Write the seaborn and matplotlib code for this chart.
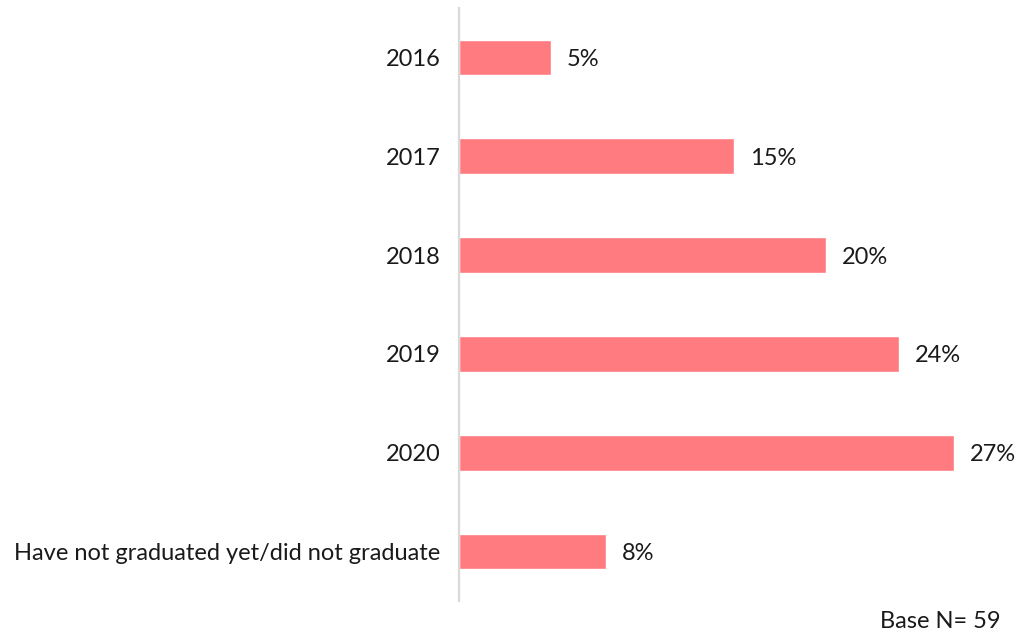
import matplotlib
matplotlib.use("Agg")
import matplotlib.pyplot as plt
import seaborn as sns
import pandas as pd

categories = ["2016", "2017", "2018", "2019", "2020",
              "Have not graduated yet/did not graduate"]
values = [5, 15, 20, 24, 27, 8]
bar_color = "#FF7B7F"
base_note = "Base N= 59"

sns.set_theme(style="white")
plt.rcParams["font.family"] = ["Lato", "DejaVu Sans"]

df = pd.DataFrame({"category": categories, "value": values})

W, H = 1022, 635
fig = plt.figure(figsize=(W / 100, H / 100), dpi=100)
ax = fig.add_axes([459 / W, 1 - 601 / H, (1009 - 459) / W, (601 - 8) / H])

sns.barplot(data=df, x="value", y="category", color=bar_color,
            width=0.36, orient="h", ax=ax, saturation=1)

ax.set_xlim(0, 30)
ax.set_ylim(5.5, -0.5)
ax.set_xlabel("")
ax.set_ylabel("")
ax.set_xticks([])
for s in ["top", "right", "bottom"]:
    ax.spines[s].set_visible(False)
ax.spines["left"].set_color("#D9D9D9")
ax.spines["left"].set_linewidth(1.6)
ax.tick_params(axis="y", length=0, pad=13.5, labelsize=17, labelcolor="#1a1a1a")
for t in ax.get_yticklabels():
    t.set_verticalalignment("center_baseline")

for container in ax.containers:
    texts = ax.bar_label(container, labels=[f"{v}%" for v in values],
                         padding=11.5, fontsize=17, color="#1a1a1a")
    for t in texts:
        t.set_verticalalignment("center_baseline")

fig.text(1001 / W, 1 - 621 / H, base_note, ha="right", va="center",
         fontsize=17, color="#1a1a1a")

fig.savefig("out.png", dpi=100)
